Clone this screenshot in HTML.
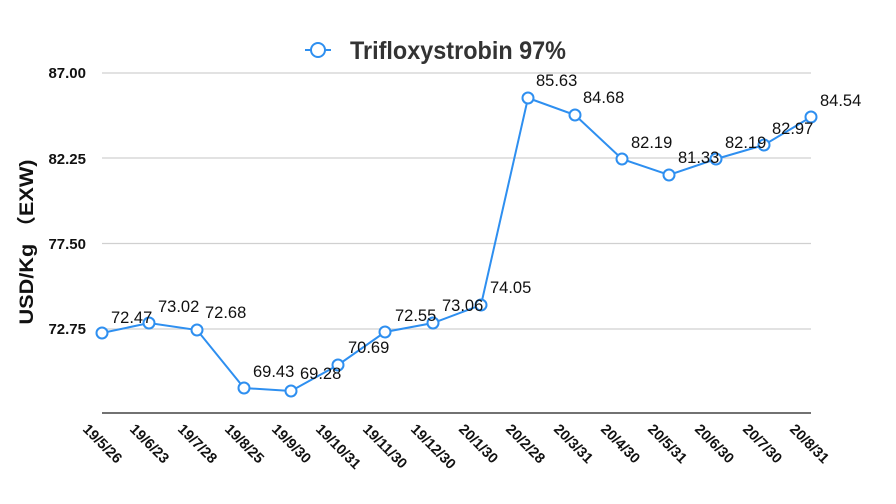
<!DOCTYPE html>
<html><head><meta charset="utf-8"><style>body{margin:0;background:#fff}svg{display:block}</style></head>
<body>
<svg width="896" height="504" xmlns="http://www.w3.org/2000/svg" font-family="Liberation Sans, Noto Sans CJK SC, sans-serif">
<rect width="896" height="504" fill="#fff"/>
<g stroke="#d0d0d0" stroke-width="1.2">
<line x1="102" y1="73" x2="811" y2="73"/>
<line x1="102" y1="158" x2="811" y2="158"/>
<line x1="102" y1="243.5" x2="811" y2="243.5"/>
<line x1="102" y1="329" x2="811" y2="329"/>
</g>
<line x1="102" y1="413" x2="811" y2="413" stroke="#444" stroke-width="1.5"/>
<g font-size="15" font-weight="bold" text-anchor="end" fill="#111">
<text x="86" y="78">87.00</text>
<text x="86" y="164">82.25</text>
<text x="86" y="249">77.50</text>
<text x="86" y="334">72.75</text>
</g>
<text transform="translate(33,242) rotate(-90)" text-anchor="middle" font-size="19" font-weight="bold" fill="#111" textLength="165" lengthAdjust="spacingAndGlyphs">USD/Kg （EXW)</text>
<line x1="305" y1="50" x2="331" y2="50" stroke="#2e8ff0" stroke-width="2"/>
<circle cx="318" cy="50" r="7" fill="#fff" stroke="#2e8ff0" stroke-width="2"/>
<text x="350" y="59" font-family="Liberation Sans Narrow, Liberation Sans, sans-serif" font-size="25" font-weight="bold" fill="#333" textLength="216" lengthAdjust="spacingAndGlyphs">Trifloxystrobin 97%</text>
<polyline fill="none" stroke="#2e8ff0" stroke-width="2" points="102,333 149,323 197,330 244,388 291,391 338,365 385,332 433,323 481,305 528,98 575,115 622,159 669,175 716,159 764,145 811,117"/>
<g fill="#fff" stroke="#2e8ff0" stroke-width="2">
<circle cx="102" cy="333" r="5.5"/><circle cx="149" cy="323" r="5.5"/><circle cx="197" cy="330" r="5.5"/><circle cx="244" cy="388" r="5.5"/><circle cx="291" cy="391" r="5.5"/><circle cx="338" cy="365" r="5.5"/><circle cx="385" cy="332" r="5.5"/><circle cx="433" cy="323" r="5.5"/><circle cx="481" cy="305" r="5.5"/><circle cx="528" cy="98" r="5.5"/><circle cx="575" cy="115" r="5.5"/><circle cx="622" cy="159" r="5.5"/><circle cx="669" cy="175" r="5.5"/><circle cx="716" cy="159" r="5.5"/><circle cx="764" cy="145" r="5.5"/><circle cx="811" cy="117" r="5.5"/>
</g>
<g font-size="16.5" fill="#111">
<text x="111" y="323">72.47</text>
<text x="158" y="312">73.02</text>
<text x="205" y="318">72.68</text>
<text x="253" y="377">69.43</text>
<text x="300" y="379">69.28</text>
<text x="348" y="353">70.69</text>
<text x="395" y="321">72.55</text>
<text x="442" y="311">73.06</text>
<text x="490" y="293">74.05</text>
<text x="536" y="86">85.63</text>
<text x="583" y="103">84.68</text>
<text x="631" y="148">82.19</text>
<text x="678" y="163">81.33</text>
<text x="725" y="148">82.19</text>
<text x="772" y="134">82.97</text>
<text x="820" y="106">84.54</text>
</g>
<g font-size="14.5" font-weight="bold" fill="#111">
<text transform="translate(82,430) rotate(45)">19/5/26</text>
<text transform="translate(129,430) rotate(45)">19/6/23</text>
<text transform="translate(177,430) rotate(45)">19/7/28</text>
<text transform="translate(224,430) rotate(45)">19/8/25</text>
<text transform="translate(271,430) rotate(45)">19/9/30</text>
<text transform="translate(315,430) rotate(45)">19/10/31</text>
<text transform="translate(362,430) rotate(45)">19/11/30</text>
<text transform="translate(410,430) rotate(45)">19/12/30</text>
<text transform="translate(458,430) rotate(45)">20/1/30</text>
<text transform="translate(505,430) rotate(45)">20/2/28</text>
<text transform="translate(553,430) rotate(45)">20/3/31</text>
<text transform="translate(600,430) rotate(45)">20/4/30</text>
<text transform="translate(647,430) rotate(45)">20/5/31</text>
<text transform="translate(694,430) rotate(45)">20/6/30</text>
<text transform="translate(742,430) rotate(45)">20/7/30</text>
<text transform="translate(789,430) rotate(45)">20/8/31</text>
</g>
</svg>
</body></html>
